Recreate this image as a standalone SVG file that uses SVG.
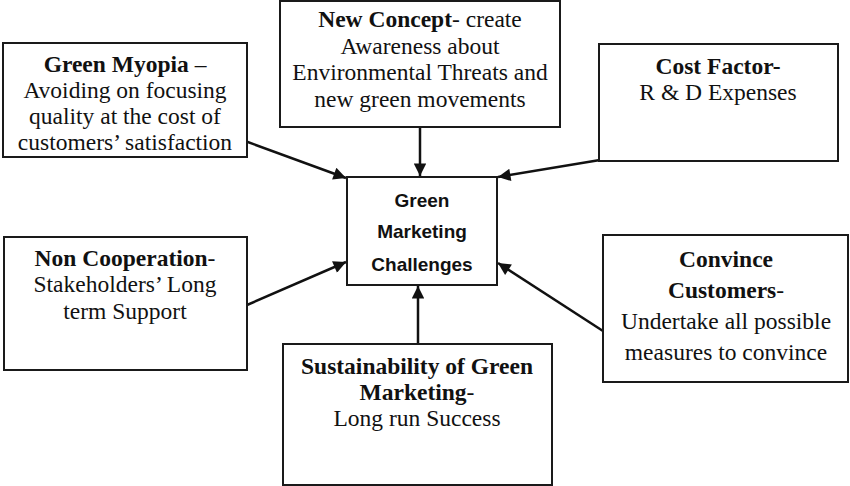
<svg xmlns="http://www.w3.org/2000/svg" width="850" height="486" viewBox="0 0 850 486">
<style>
.box{fill:#fff;stroke:#1a1a1a;stroke-width:2}
.t{font-family:"Liberation Serif","Times New Roman",serif;font-size:23.5px;fill:#111;text-anchor:middle}
.b{font-weight:bold}
.c{font-family:"Liberation Sans",Arial,sans-serif;font-size:19px;font-weight:bold;fill:#111;text-anchor:middle}
.conn{stroke:#111;stroke-width:2.5;fill:none;marker-end:url(#ah)}
</style>
<defs>
<marker id="ah" viewBox="0 0 10 10" refX="10" refY="5" markerWidth="6" markerHeight="5" markerUnits="strokeWidth" orient="auto">
<path d="M0,0 L10,5 L0,10 z" fill="#111"/>
</marker>
</defs>
<rect width="850" height="486" fill="#fff"/>
<g id="connectors">
<line class="conn" x1="245" y1="141" x2="346" y2="178"/>
<line class="conn" x1="420" y1="127" x2="420" y2="176"/>
<line class="conn" x1="600" y1="160" x2="498" y2="177"/>
<line class="conn" x1="247" y1="305" x2="346" y2="262"/>
<line class="conn" x1="603" y1="331" x2="498" y2="263"/>
<line class="conn" x1="418" y1="344" x2="418" y2="286"/>
</g>
<g id="center">
<rect class="box" x="347" y="177" width="150" height="108"/>
<text class="c" x="422" y="207">Green</text>
<text class="c" x="422" y="238">Marketing</text>
<text class="c" x="422" y="271">Challenges</text>
</g>
<g id="green-myopia">
<rect class="box" x="3" y="43" width="244" height="114"/>
<text class="t" x="125" y="72"><tspan class="b">Green Myopia</tspan> –</text>
<text class="t" x="125" y="98">Avoiding on focusing</text>
<text class="t" x="125" y="124">quality at the cost of</text>
<text class="t" x="125" y="150">customers’ satisfaction</text>
</g>
<g id="new-concept">
<rect class="box" x="280" y="1" width="280" height="126"/>
<text class="t" x="420" y="27"><tspan class="b">New Concept</tspan>- create</text>
<text class="t" x="420" y="54">Awareness about</text>
<text class="t" x="420" y="80">Environmental Threats and</text>
<text class="t" x="420" y="107">new green movements</text>
</g>
<g id="cost-factor">
<rect class="box" x="599" y="44" width="239" height="117"/>
<text class="t b" x="718" y="74">Cost Factor-</text>
<text class="t" x="718" y="100">R &amp; D Expenses</text>
</g>
<g id="non-cooperation">
<rect class="box" x="4" y="237" width="243" height="133"/>
<text class="t" x="125" y="266"><tspan class="b">Non Cooperation</tspan>-</text>
<text class="t" x="125" y="292">Stakeholders’ Long</text>
<text class="t" x="125" y="319">term Support</text>
</g>
<g id="convince">
<rect class="box" x="603" y="235" width="245" height="147"/>
<text class="t b" x="726" y="267">Convince</text>
<text class="t" x="726" y="298"><tspan class="b">Customers</tspan>-</text>
<text class="t" x="726" y="329">Undertake all possible</text>
<text class="t" x="726" y="360">measures to convince</text>
</g>
<g id="sustainability">
<rect class="box" x="283" y="344" width="269" height="141"/>
<text class="t b" x="417" y="374">Sustainability of Green</text>
<text class="t" x="417" y="400"><tspan class="b">Marketing</tspan>-</text>
<text class="t" x="417" y="426">Long run Success</text>
</g>
</svg>
